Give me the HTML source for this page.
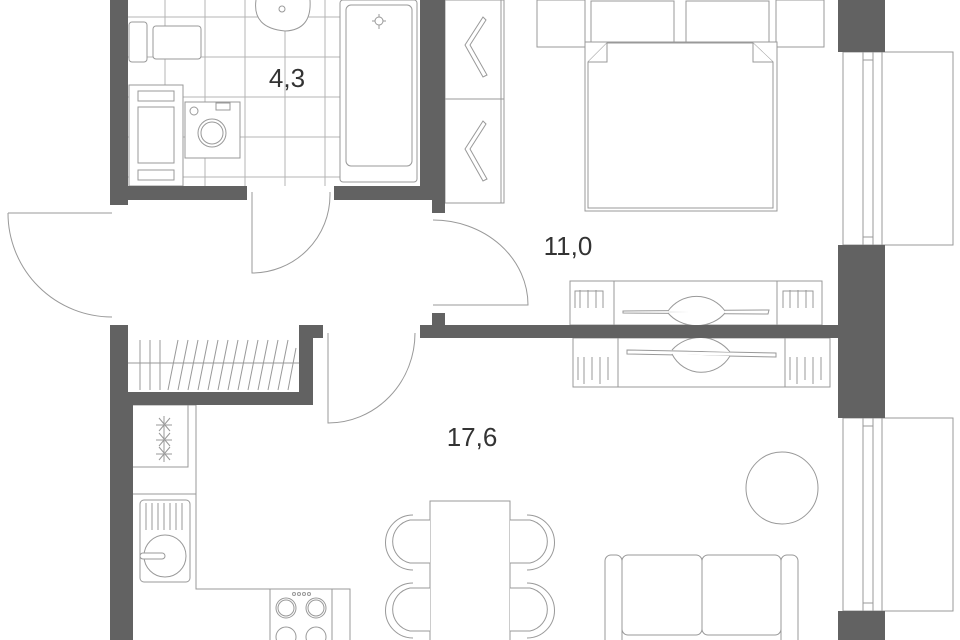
<!DOCTYPE html>
<html><head><meta charset="utf-8"><style>
html,body{margin:0;padding:0;background:#fff;width:960px;height:640px;overflow:hidden}
svg{display:block}
text{font-family:"Liberation Sans",sans-serif;fill:#333}
</style></head><body>
<svg width="960" height="640" viewBox="0 0 960 640" xmlns="http://www.w3.org/2000/svg">
<g fill="none" stroke="#b4b4b4" stroke-width="1">
<!-- bathroom tiles -->
<path d="M165 0V186M205 0V186M245 0V186M285 0V186M325 0V186M128 17H340M128 57H340M128 97H340M128 137H340M128 177H340"/>
</g>
<g fill="#fff" stroke="#999" stroke-width="1">
<!-- toilet -->
<rect x="129" y="22" width="18" height="40" rx="3"/>
<rect x="153" y="26" width="48" height="33" rx="3"/>
<!-- sink -->
<path d="M256 0 Q252 28 285 31 Q312 30 310 0"/>
<circle cx="282" cy="9" r="3"/>
<!-- cabinet -->
<rect x="129" y="85" width="54" height="101"/>
<rect x="138" y="91" width="36" height="10"/>
<rect x="138" y="107" width="36" height="56"/>
<rect x="138" y="170" width="36" height="10"/>
<!-- washer -->
<rect x="185" y="102" width="55" height="56"/>
<circle cx="212" cy="133" r="14"/><circle cx="212" cy="133" r="11"/>
<circle cx="194" cy="111" r="4"/>
<rect x="216" y="103" width="14" height="7"/>
<!-- bath -->
<rect x="340" y="0" width="77" height="182" rx="3"/>
<rect x="346" y="5" width="66" height="161" rx="5"/>
<path d="M379 14V29M372 21H386"/><circle cx="379" cy="21" r="4"/>
<!-- wardrobe -->
<rect x="445" y="0" width="59" height="203"/>
<path d="M445 99H504M501 0V203"/>
<path d="M483 17 L465 45 L483 77 L487 75 L470 45 L486 20 Z"/>
<path d="M483 121 L465 149 L483 181 L487 179 L470 149 L486 124 Z"/>
<!-- bedroom -->
<rect x="537" y="0" width="48" height="47"/>
<rect x="776" y="0" width="48" height="47"/>
<rect x="591" y="1" width="83" height="42"/>
<rect x="686" y="1" width="83" height="42"/>
<rect x="585" y="42" width="192" height="169"/>
<path d="M588 208V62L607 43H753L773 62V208Z"/>
<path d="M607 43V62H588M753 43V62H773"/>
<!-- tv stands -->
<rect x="570" y="281" width="252" height="44"/>
<path d="M614 281V325M777 281V325"/>
<path d="M623 311 L769 310 L768 314 L623 313Z"/>
<path d="M668 311 A35 35 0 0 1 725 311 M668 313 A35 30 0 0 0 725 313"/>
<rect x="573" y="338" width="257" height="49"/>
<path d="M618 338V387M785 338V387"/>
<path d="M627 350 L776 353 L776 357 L627 354Z"/>
<path d="M672 350 A38 38 0 0 1 730 352 M672 354 A33 33 0 0 0 730 356"/>
<path d="M575 308V291H603V308M580 308V290M588 308V290M596 308V290M783 308V291H813V308M790 308V290M798 308V290M806 308V290"/>
<path d="M578 357V380M584 357V384M592 357V380M600 357V384M608 357V380M790 357V380M797 357V384M805 357V380M813 357V384M821 357V380"/>
<!-- window frames -->
<rect x="843" y="52" width="110" height="193"/>
<path d="M863 52V245M873 52V245M882 52V245M863 60H873M863 237H873"/>
<rect x="843" y="418" width="110" height="193"/>
<path d="M863 418V611M873 418V611M882 418V611M863 426H873M863 603H873"/>
<!-- storage hatching -->
<path d="M128 363H299"/>
<path d="M140 340V390M150 340V390M160 340V390M168 390L178 340M178 390L188 340M188 390L198 340M198 390L208 340M208 390L218 340M218 390L228 340M228 390L238 340M238 390L248 340M248 390L258 340M258 390L268 340M268 390L278 340M278 390L288 340M288 390L296 348"/>
<!-- kitchen -->
<path d="M133 405H196V589H350V640M133 467H188V405M133 494H196"/>
<path d="M159 418L170 431M170 418L159 431M164 416V433M159 433L170 446M170 433L159 446M164 431V448M159 447L170 460M170 447L159 460M164 445V462M156 425H172M156 440H172M156 454H172"/>
<rect x="140" y="500" width="50" height="82" rx="4"/>
<path d="M146 503V530M152 503V530M158 503V530M164 503V530M170 503V530M176 503V530M182 503V530"/>
<circle cx="165" cy="556" r="21"/>
<rect x="140" y="553" width="25" height="6" rx="3"/>
<rect x="270" y="589" width="62" height="60"/>
<circle cx="286" cy="608" r="10"/><circle cx="286" cy="608" r="8"/>
<circle cx="316" cy="608" r="10"/><circle cx="316" cy="608" r="8"/>
<circle cx="286" cy="637" r="10"/><circle cx="316" cy="637" r="10"/>
<circle cx="294" cy="594" r="1.5"/><circle cx="299" cy="594" r="1.5"/><circle cx="304" cy="594" r="1.5"/><circle cx="309" cy="594" r="1.5"/>
<!-- dining -->
<rect x="430" y="501" width="80" height="150"/>
<path d="M430 520H410A22 22 0 0 0 410 563H430M413 515A27 27 0 0 0 413 570"/>
<path d="M430 588H410A22 22 0 0 0 410 631H430M413 583A27 27 0 0 0 413 638"/>
<path d="M510 520H530A22 22 0 0 1 530 563H510M527 515A27 27 0 0 1 527 570"/>
<path d="M510 588H530A22 22 0 0 1 530 631H510M527 583A27 27 0 0 1 527 638"/>
<!-- living -->
<circle cx="782" cy="488" r="36"/>
<rect x="605" y="555" width="17" height="100" rx="6"/>
<rect x="781" y="555" width="17" height="100" rx="6"/>
<rect x="622" y="555" width="80" height="80" rx="6"/>
<rect x="702" y="555" width="79" height="80" rx="6"/>
<!-- doors -->
<path d="M8 213H112M8 213A104 104 0 0 0 112 317"/>
<path d="M252 192V273A78 78 0 0 0 330 195V192"/>
<path d="M433 220A95 85 0 0 1 528 305H433"/>
<path d="M328 333V423A87 90 0 0 0 415 333"/>
</g>
<!-- walls -->
<g fill="#626262">
<rect x="110" y="0" width="18" height="205"/>
<rect x="128" y="186" width="119" height="14"/>
<rect x="334" y="186" width="98" height="14"/>
<rect x="420" y="0" width="25" height="200"/>
<rect x="432" y="186" width="13" height="27"/>
<rect x="432" y="313" width="13" height="25"/>
<rect x="420" y="325" width="420" height="13"/>
<rect x="838" y="0" width="47" height="52"/>
<rect x="838" y="245" width="47" height="173"/>
<rect x="838" y="611" width="47" height="29"/>
<rect x="110" y="325" width="18" height="315"/>
<rect x="110" y="392" width="23" height="248"/>
<rect x="128" y="392" width="185" height="13"/>
<rect x="299" y="325" width="14" height="80"/>
<rect x="299" y="325" width="24" height="13"/>
</g>
<text x="287" y="87" font-size="26" text-anchor="middle">4,3</text>
<text x="568" y="255" font-size="26" text-anchor="middle">11,0</text>
<text x="472" y="446" font-size="26" text-anchor="middle">17,6</text>
</svg>
</body></html>
